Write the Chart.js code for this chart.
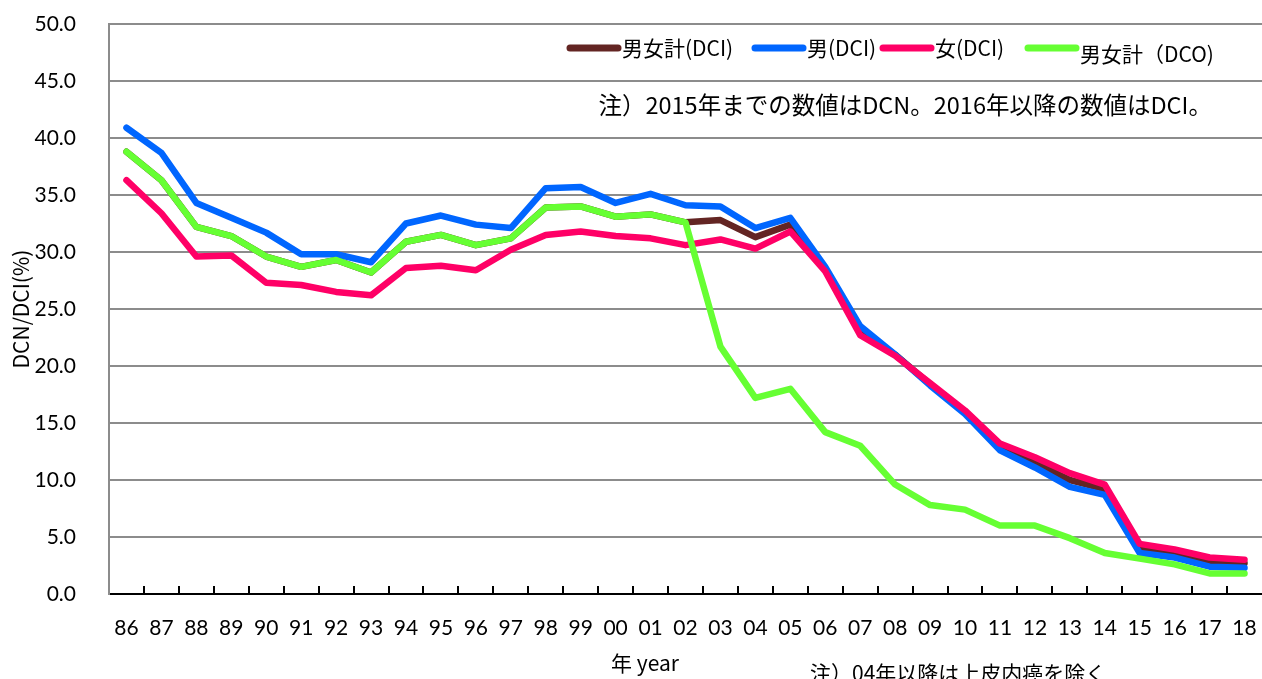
<!DOCTYPE html>
<html>
<head>
<meta charset="utf-8">
<script src="https://cdn.jsdelivr.net/npm/chart.js@4.4.0/dist/chart.umd.min.js"></script>
<style>
  body { margin: 0; background: #fff; }
  canvas { display: block; }
</style>
</head>
<body>
<canvas id="grafico" width="1262" height="679"></canvas>
<script>
// Datos
var anios = ['86','87','88','89','90','91','92','93','94','95','96','97','98','99','00',
  '01','02','03','04','05','06','07','08','09','10','11','12','13','14','15','16','17','18'];

var total_dci = [38.8,36.3,32.2,31.4,29.6,28.7,29.3,28.2,30.9,31.5,30.6,31.2,33.9,34.0,33.1,
  33.3,32.6,32.8,31.3,32.4,28.5,23.0,21.0,18.4,16.0,12.9,11.5,10.0,9.2,4.0,3.6,2.9,2.7];
var hombre_dci = [40.9,38.7,34.3,33.0,31.7,29.8,29.8,29.1,32.5,33.2,32.4,32.1,35.6,35.7,34.3,
  35.1,34.1,34.0,32.1,33.0,28.7,23.5,21.0,18.3,15.8,12.6,11.1,9.4,8.7,3.6,3.2,2.4,2.3];
var mujer_dci = [36.3,33.4,29.6,29.7,27.3,27.1,26.5,26.2,28.6,28.8,28.4,30.2,31.5,31.8,31.4,
  31.2,30.6,31.1,30.3,31.8,28.3,22.7,20.9,18.5,16.1,13.2,12.0,10.6,9.6,4.4,3.9,3.2,3.0];
var total_dco = [38.8,36.3,32.2,31.4,29.6,28.7,29.3,28.2,30.9,31.5,30.6,31.2,33.9,34.0,33.1,
  33.3,32.6,21.7,17.2,18.0,14.2,13.0,9.6,7.8,7.4,6.0,6.0,4.9,3.6,3.1,2.6,1.8,1.8];

var etiquetas = ['男女計(DCI)', '男(DCI)', '女(DCI)', '男女計（DCO)'];
var colores = ['#632523', '#0066ff', '#ff0066', '#66ff33'];

var nota_arriba = '注）2015年までの数値はDCN。2016年以降の数値はDCI。';
var nota_abajo = '注）04年以降は上皮内癌を除く';
var titulo_x = '年 year';
var titulo_y = 'DCN/DCI(%)';

var fuenteCJK = "'Noto Sans CJK JP', sans-serif";

// Leyenda, notas y marcas del eje x dibujadas a mano
var extrasPlugin = {
  id: 'extras',
  afterDraw: function(chart) {
    var ctx = chart.ctx;
    var x = chart.scales.x;
    var area = chart.chartArea;

    // marcas interiores del eje x
    var mitad = (x.getPixelForValue(1) - x.getPixelForValue(0)) / 2;
    ctx.save();
    ctx.strokeStyle = '#000';
    ctx.lineWidth = 2;
    for (var i = 1; i < anios.length; i++) {
      var px = Math.round(x.getPixelForValue(i) - mitad);
      ctx.beginPath();
      ctx.moveTo(px, area.bottom);
      ctx.lineTo(px, area.bottom - 8);
      ctx.stroke();
    }
    ctx.restore();

    // leyenda
    var posX = [567, 752, 880, 1025];
    var desplY = [0, 0, 0, 6];
    ctx.save();
    ctx.font = '21px ' + fuenteCJK;
    ctx.textBaseline = 'middle';
    ctx.lineCap = 'round';
    chart.data.datasets.forEach(function(ds, i) {
      var y = 48;
      ctx.strokeStyle = ds.borderColor;
      ctx.lineWidth = 7;
      ctx.beginPath();
      ctx.moveTo(posX[i] + 3, y);
      ctx.lineTo(posX[i] + 51, y);
      ctx.stroke();
      ctx.fillStyle = '#000';
      ctx.textAlign = 'left';
      ctx.fillText(ds.label, posX[i] + 55, y + desplY[i]);
    });

    // notas
    ctx.font = '23.5px ' + fuenteCJK;
    ctx.textAlign = 'right';
    ctx.fillText(nota_arriba, 1212, 105);
    ctx.textAlign = 'left';
    ctx.textBaseline = 'top';
    ctx.font = '21px ' + fuenteCJK;
    ctx.fillText(nota_abajo, 810, 663);
    ctx.textAlign = 'center';
    ctx.font = '21px ' + fuenteCJK;
    ctx.fillText(titulo_x, 645, 653);
    ctx.restore();
  }
};

var config = {
  type: 'line',
  data: {
    labels: anios,
    datasets: [
      { label: etiquetas[0], data: total_dci, borderColor: colores[0], order: 4 },
      { label: etiquetas[1], data: hombre_dci, borderColor: colores[1], order: 3 },
      { label: etiquetas[2], data: mujer_dci, borderColor: colores[2], order: 2 },
      { label: etiquetas[3], data: total_dco, borderColor: colores[3], order: 1 }
    ]
  },
  options: {
    responsive: false,
    animation: false,
    devicePixelRatio: 1,
    layout: { padding: { top: 24, right: 0, left: 0, bottom: 0 } },
    elements: {
      line: { borderWidth: 6.5, tension: 0, borderJoinStyle: 'round', borderCapStyle: 'round', fill: false },
      point: { radius: 0, hoverRadius: 0 }
    },
    plugins: {
      legend: { display: false },
      title: { display: false },
      tooltip: { enabled: false }
    },
    scales: {
      x: {
        offset: true,
        grid: { display: false, drawTicks: false },
        border: { display: true, color: '#000', width: 2 },
        ticks: {
          color: '#000', font: { family: 'Lato', size: 21 }, padding: 22,
          maxRotation: 0, autoSkip: false
        },
        afterFit: function(s) { s.height = 85; s.paddingRight = 0; s.paddingLeft = 0; }
      },
      y: {
        min: 0,
        max: 50,
        grid: { color: '#8c8c8c', lineWidth: 2, drawTicks: false },
        border: { display: true, color: '#8c8c8c', width: 2 },
        ticks: {
          stepSize: 5, color: '#000', font: { family: 'Lato', size: 21 }, padding: 33,
          callback: function(v) { return Number(v).toFixed(1); }
        },
        title: {
          display: true, text: titulo_y, color: '#000',
          font: { family: fuenteCJK, size: 21 }, padding: { top: 8, bottom: 0 }
        },
        afterFit: function(s) { s.width = 109; s.paddingTop = 0; s.paddingBottom = 0; }
      }
    }
  },
  plugins: [extrasPlugin]
};

var grafico = new Chart(document.getElementById('grafico').getContext('2d'), config);
</script>
</body>
</html>
